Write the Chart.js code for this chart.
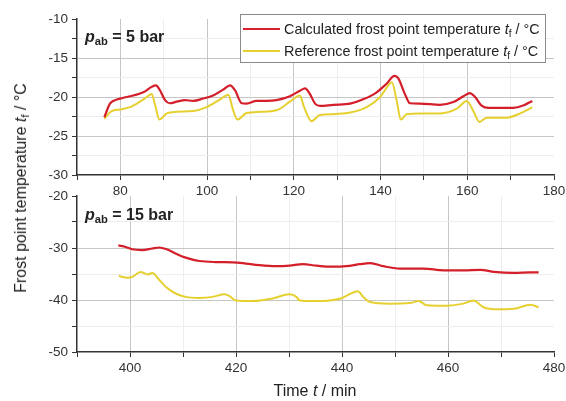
<!DOCTYPE html>
<html><head><meta charset="utf-8">
<script src="https://cdn.jsdelivr.net/npm/chart.js@4.4.1/dist/chart.umd.min.js"></script>
<style>
html,body{margin:0;padding:0;background:#fff;}
#wrap{position:relative;width:566px;height:401px;overflow:hidden;font-family:"Liberation Sans",Arial,sans-serif;color:#222;}
canvas{position:absolute;left:0;}
#c1{top:0;} #c2{top:190px;}
.ytitle{position:absolute;left:21px;top:188px;transform:translate(-50%,-50%) rotate(-90deg);white-space:nowrap;font-size:16px;}
.xtitle{position:absolute;left:315px;top:391px;transform:translate(-50%,-50%);white-space:nowrap;font-size:16px;}
.ann{position:absolute;font-weight:bold;font-size:16px;white-space:nowrap;line-height:18px;}
.legend{position:absolute;left:240px;top:14px;width:306px;height:49px;border:1px solid #8a8a8a;background:#fff;box-sizing:border-box;}
.row{position:absolute;left:2px;height:20px;line-height:20px;font-size:14.4px;white-space:nowrap;}
.sw{display:inline-block;width:37px;height:2px;margin-right:4px;vertical-align:middle;position:relative;top:-1px;}
sub{font-size:70%;vertical-align:-0.3em;line-height:0;}
</style></head>
<body>
<div id="wrap">
<canvas id="c1" width="566" height="205"></canvas>
<canvas id="c2" width="566" height="211"></canvas>
<div class="ytitle">Frost point temperature <i>t</i><sub>f</sub> / °C</div>
<div class="xtitle">Time <i>t</i> / min</div>
<div class="ann" style="left:85px;top:28px;"><i>p</i><sub>ab</sub> = 5 bar</div>
<div class="ann" style="left:85px;top:206px;"><i>p</i><sub>ab</sub> = 15 bar</div>
<div class="legend">
  <div class="row" style="top:4px;"><span class="sw" style="background:#d81f2a"></span><span>Calculated frost point temperature <i>t</i><sub>f</sub> / °C</span></div>
  <div class="row" style="top:26px;"><span class="sw" style="background:#e6d030"></span><span>Reference frost point temperature <i>t</i><sub>f</sub> / °C</span></div>
</div>
</div>
<script>
// ---- Data: p_ab = 5 bar ----
const calcTime5 = [76.3,77.6,78.8,80.7,83.0,85.3,87.2,88.2,89.1,90.3,91.4,93.0,94.9,96.8,99.1,101.4,103.7,105.3,106.4,108.0,109.1,111.4,113.7,116.0,119.1,121.4,122.6,123.7,124.9,126.0,129.1,133.0,136.0,139.1,141.4,143.2,144.1,145.6,146.8,149.1,153.7,156.8,159.1,160.6,161.8,163.3,164.9,167.6,170.6,172.9,175.0];
const calcTemp5 = [-22.6,-20.85,-20.4,-20.1,-19.8,-19.4,-18.7,-18.5,-19.1,-20.4,-20.8,-20.6,-20.4,-20.5,-20.2,-19.8,-19.05,-18.5,-19.1,-20.8,-20.85,-20.5,-20.5,-20.4,-19.9,-19.2,-18.9,-19.6,-20.85,-21.15,-21.0,-20.85,-20.3,-19.4,-18.3,-17.3,-17.6,-19.6,-20.8,-20.85,-21.0,-20.65,-19.9,-19.5,-20.0,-21.1,-21.4,-21.4,-21.4,-21.1,-20.5];
const refTime5 = [76.3,78.0,79.9,82.2,84.5,86.1,87.2,88.0,89.0,90.7,93.0,96.8,99.9,103.0,104.9,105.9,107.0,109.1,112.2,116.0,119.1,121.4,122.3,124.1,126.0,129.1,133.0,136.8,139.9,141.8,142.6,143.7,144.7,146.0,149.1,153.7,157.6,159.9,161.4,162.8,164.5,169.1,172.2,175.0];
const refTemp5 = [-22.8,-21.8,-21.6,-21.3,-20.6,-20.0,-19.6,-21.0,-22.9,-22.1,-21.9,-21.8,-21.3,-20.3,-19.7,-21.5,-22.9,-22.05,-21.9,-21.7,-20.6,-19.8,-21.2,-23.1,-22.3,-22.2,-22.0,-21.3,-20.0,-18.5,-18.1,-20.4,-22.9,-22.2,-22.1,-22.1,-21.5,-20.5,-21.8,-23.2,-22.65,-22.65,-22.1,-21.3];
// ---- Data: p_ab = 15 bar ----
const calcTime15 = [397.8,399.2,400.4,402.3,404.2,405.5,406.8,408.7,410.5,413.1,416.2,419.4,421.3,424.4,427.6,430.1,432.6,435.2,438.3,440.8,443.4,445.3,447.8,450.9,455.4,459.2,462.9,466.1,468.7,472.4,475.6,477.1];
const calcTemp15 = [-29.5,-29.8,-30.25,-30.4,-30.1,-29.9,-30.2,-31.1,-31.85,-32.5,-32.7,-32.75,-32.9,-33.3,-33.5,-33.4,-33.1,-33.4,-33.6,-33.5,-33.1,-32.9,-33.5,-33.95,-33.95,-34.3,-34.3,-34.2,-34.6,-34.8,-34.7,-34.7];
const refTime15 = [397.9,399.5,400.4,402.0,403.3,404.2,405.5,406.8,408.7,410.5,413.1,415.6,417.8,418.7,420.0,423.2,426.9,430.1,431.4,432.0,435.2,439.8,443.0,444.0,445.3,449.0,452.8,454.4,456.0,459.8,462.9,464.8,466.7,469.3,472.4,475.6,477.1];
const refTemp15 = [-35.4,-35.7,-35.6,-34.6,-35.1,-34.8,-36.1,-37.5,-38.8,-39.4,-39.6,-39.4,-38.9,-39.2,-40.1,-40.2,-39.7,-38.9,-39.4,-40.1,-40.2,-39.7,-38.3,-39.4,-40.4,-40.7,-40.6,-40.2,-41.0,-41.1,-40.7,-40.1,-41.4,-41.8,-41.7,-40.9,-41.4];
// ---- Tick labels ----
const xLabels5 = [80,100,120,140,160,180];
const yLabels5 = [-30,-25,-20,-15,-10];
const xLabels15 = [400,420,440,460,480];
const yLabels15 = [-50,-40,-30,-20];

const FF = '"Liberation Sans", Arial, sans-serif';
const RED = '#d41e2a', YEL = '#e6d030';
const has = (arr, v) => arr.some(l => Math.abs(l - v) < 1e-6);
const pts = (ts, vs) => ts.map((t, i) => ({x: t, y: vs[i]}));

function gridCol(v, min, max, labels) {
  if (Math.abs(v - min) < 1e-6 || Math.abs(v - max) < 1e-6) return 'rgba(0,0,0,0)';
  return has(labels, v) ? '#c6c6c6' : '#eeeeee';
}

function makeChart(id, cfg) {
  return new Chart(document.getElementById(id), {
    type: 'line',
    data: {
      datasets: [
        {data: pts(cfg.ct, cfg.cv), borderColor: RED, borderWidth: 2.2, pointRadius: 0, fill: false, cubicInterpolationMode: 'monotone'},
        {data: pts(cfg.rt, cfg.rv), borderColor: YEL, borderWidth: 2, pointRadius: 0, fill: false, cubicInterpolationMode: 'monotone'}
      ]
    },
    options: {
      responsive: false, animation: false, devicePixelRatio: 1,
      layout: {padding: {left: 0, right: 12, top: cfg.padTop, bottom: 0}},
      plugins: {legend: {display: false}, tooltip: {enabled: false}},
      scales: {
        x: {
          type: 'linear', min: cfg.xmin, max: cfg.xmax,
          ticks: {stepSize: 10, autoSkip: false, maxRotation: 0, minRotation: 0, padding: 3, color: '#333',
            font: {family: FF, size: 13.5}, callback: v => has(cfg.xl, v) ? String(v) : ''},
          grid: {color: c => gridCol(c.tick.value, cfg.xmin, cfg.xmax, cfg.xl), tickLength: 5, tickColor: '#333', lineWidth: 1},
          border: {color: '#333', width: 1.5},
          afterFit: s => { s.height = cfg.xHeight; s.paddingLeft = 0; s.paddingRight = 0; }
        },
        y: {
          type: 'linear', min: cfg.ymin, max: cfg.ymax,
          ticks: {stepSize: cfg.ystep, autoSkip: false, padding: 4, color: '#333',
            font: {family: FF, size: 13.5}, callback: v => has(cfg.yl, v) ? String(v) : ''},
          grid: {color: c => gridCol(c.tick.value, cfg.ymin, cfg.ymax, cfg.yl), tickLength: 5, tickColor: '#333', lineWidth: 1},
          border: {color: '#333', width: 1.5},
          afterFit: s => { s.width = 77; s.paddingTop = 0; s.paddingBottom = 0; }
        }
      }
    }
  });
}

makeChart('c1', {ct: calcTime5, cv: calcTemp5, rt: refTime5, rv: refTemp5,
  xmin: 70, xmax: 180, xl: xLabels5, ymin: -30, ymax: -10, ystep: 2.5, yl: yLabels5,
  padTop: 19, xHeight: 30});
makeChart('c2', {ct: calcTime15, cv: calcTemp15, rt: refTime15, rv: refTemp15,
  xmin: 390, xmax: 480, xl: xLabels15, ymin: -50, ymax: -20, ystep: 5, yl: yLabels15,
  padTop: 6, xHeight: 49});
</script>
</body></html>
